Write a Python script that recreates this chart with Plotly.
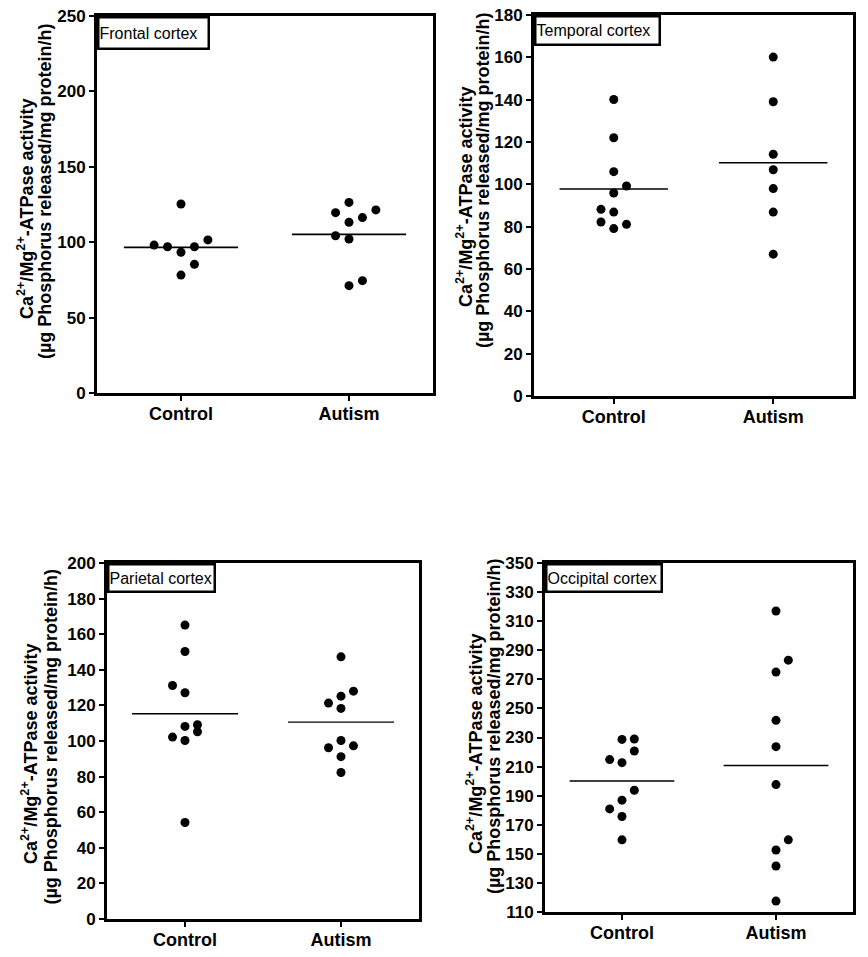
import plotly.graph_objects as go

categories = ["Control", "Autism"]

frontal_control = [125.3, 98.1, 97.0, 97.0, 93.3, 101.5, 85.3, 78.2]
frontal_control_slot = [0, -2, -1, 1, 0, 2, 1, 0]
frontal_autism = [126.4, 119.6, 121.4, 116.3, 113.2, 104.3, 102.1, 74.5, 71.2]
frontal_autism_slot = [0, -1, 2, 1, 0, -1, 0, 1, 0]
frontal_means = [96.6, 105.2]

temporal_control = [140.1, 122.0, 106.0, 99.2, 95.9, 88.2, 86.9, 82.2, 81.1, 79.1]
temporal_control_slot = [0, 0, 0, 1, 0, -1, 0, -1, 1, 0]
temporal_autism = [160.1, 139.0, 114.2, 106.9, 98.0, 86.9, 67.0]
temporal_autism_slot = [0, 0, 0, 0, 0, 0, 0]
temporal_means = [97.8, 110.2]

parietal_control = [165.1, 150.3, 131.2, 127.1, 109.1, 108.2, 105.2, 102.2, 100.3, 54.2]
parietal_control_slot = [0, 0, -1, 0, 1, 0, 1, -1, 0, 0]
parietal_autism = [147.3, 128.0, 125.2, 121.3, 118.3, 100.3, 97.3, 96.2, 91.2, 82.3]
parietal_autism_slot = [0, 1, 0, -1, 0, 0, 1, -1, 0, 0]
parietal_means = [115.3, 110.6]

occipital_control = [228.7, 229.0, 220.7, 214.8, 212.7, 193.7, 186.9, 180.9, 175.7, 159.6]
occipital_control_slot = [0, 1, 1, -1, 0, 1, 0, -1, 0, 0]
occipital_autism = [317.0, 283.2, 275.0, 241.8, 223.7, 197.6, 159.6, 152.6, 141.6, 117.5]
occipital_autism_slot = [0, 1, 0, 0, 0, 0, 1, 0, 0, 0]
occipital_means = [200.1, 210.7]

region_labels = ["Frontal cortex", "Temporal cortex", "Parietal cortex", "Occipital cortex"]
y_ranges = [[0, 250], [0, 180], [0, 200], [110, 350]]
y_dticks = [50, 20, 20, 20]
ytitle_line1 = "Ca<sup>2+</sup>/Mg<sup>2+</sup>-ATPase activity"
ytitle_line2 = "(\u00b5g Phosphorus released/mg protein/h)"

W, H = 868, 957
# pixel boxes: left, right, top, bottom
boxes = [(97, 433, 16, 393), (534, 853, 15, 396), (107, 419, 563, 919), (545, 853, 563, 912)]
label_box = [(108, 29), (122, 26), (104, 25), (113, 25)]
title1_pos = [(25, 209), (464, 197), (29, 754), (474, 744)]
title2_pos = [(45, 192), (483, 180), (50, 737.5), (494, 727)]

panels = [
    (frontal_control, frontal_control_slot, frontal_autism, frontal_autism_slot, frontal_means),
    (temporal_control, temporal_control_slot, temporal_autism, temporal_autism_slot, temporal_means),
    (parietal_control, parietal_control_slot, parietal_autism, parietal_autism_slot, parietal_means),
    (occipital_control, occipital_control_slot, occipital_autism, occipital_autism_slot, occipital_means),
]

SLOT = 0.08
HALF = 0.34
FONT = "Liberation Sans, Arial, sans-serif"

fig = go.Figure()
layout = dict(
    width=W, height=H, autosize=False,
    margin=dict(l=0, r=0, t=0, b=0, pad=0, autoexpand=False),
    paper_bgcolor="white", plot_bgcolor="white", showlegend=False,
    font=dict(family=FONT, color="black"),
)
annotations = []

for i, (c, cs, a, as_, means) in enumerate(panels):
    n = "" if i == 0 else str(i + 1)
    xa, ya = "x" + n, "y" + n
    l, r, t, b = boxes[i]
    for k, (vals, slots) in enumerate([(c, cs), (a, as_)]):
        fig.add_trace(go.Scatter(
            x=[k + 1 + s * SLOT for s in slots], y=vals, mode="markers",
            marker=dict(color="black", size=9),
            xaxis=xa, yaxis=ya, hoverinfo="y"))
        fig.add_trace(go.Scatter(
            x=[k + 1 - HALF, k + 1 + HALF], y=[means[k], means[k]], mode="lines",
            line=dict(color="black", width=1.8 if i == 0 else 1.4),
            xaxis=xa, yaxis=ya, hoverinfo="skip"))
    layout["xaxis" + n] = dict(
        domain=[l / W, r / W], range=[0.5, 2.5], anchor=ya, automargin=False,
        tickvals=[1, 2], ticktext=categories,
        showline=True, linecolor="black", linewidth=3, mirror=True,
        ticks="outside", ticklen=5, tickwidth=2, tickcolor="black",
        showgrid=False, zeroline=False, ticklabelstandoff=-3,
        tickfont=dict(family=FONT, size=18, color="black", weight="bold"),
    )
    layout["yaxis" + n] = dict(
        domain=[1 - b / H, 1 - t / H], range=y_ranges[i], anchor=xa, automargin=False,
        tick0=y_ranges[i][0], dtick=y_dticks[i],
        showline=True, linecolor="black", linewidth=3, mirror=True,
        ticks="outside", ticklen=5, tickwidth=2, tickcolor="black",
        showgrid=False, zeroline=False,
        tickfont=dict(family=FONT, size=17, color="black", weight="bold"),
    )
    bw, bh = label_box[i]
    annotations.append(dict(
        text=region_labels[i], xref=xa + " domain", yref=ya + " domain",
        x=0, y=1, xanchor="left", yanchor="top", showarrow=False,
        width=bw, height=bh, align="left", valign="middle",
        bordercolor="black", borderwidth=2.5, borderpad=0, bgcolor="white",
        font=dict(family=FONT, size=16, color="black"),
    ))
    for txt, (tx, ty) in [(ytitle_line1, title1_pos[i]), (ytitle_line2, title2_pos[i])]:
        annotations.append(dict(
            text=txt, xref="paper", yref="paper", x=tx / W, y=1 - ty / H,
            xanchor="center", yanchor="middle", textangle=-90, showarrow=False,
            font=dict(family=FONT, size=18, color="black", weight="bold"),
        ))

layout["annotations"] = annotations
fig.update_layout(**layout)
fig.write_html(
    "out.html",
    config={"displayModeBar": False},
    post_script="document.body.style.margin='0px';document.body.style.overflow='hidden';",
)
